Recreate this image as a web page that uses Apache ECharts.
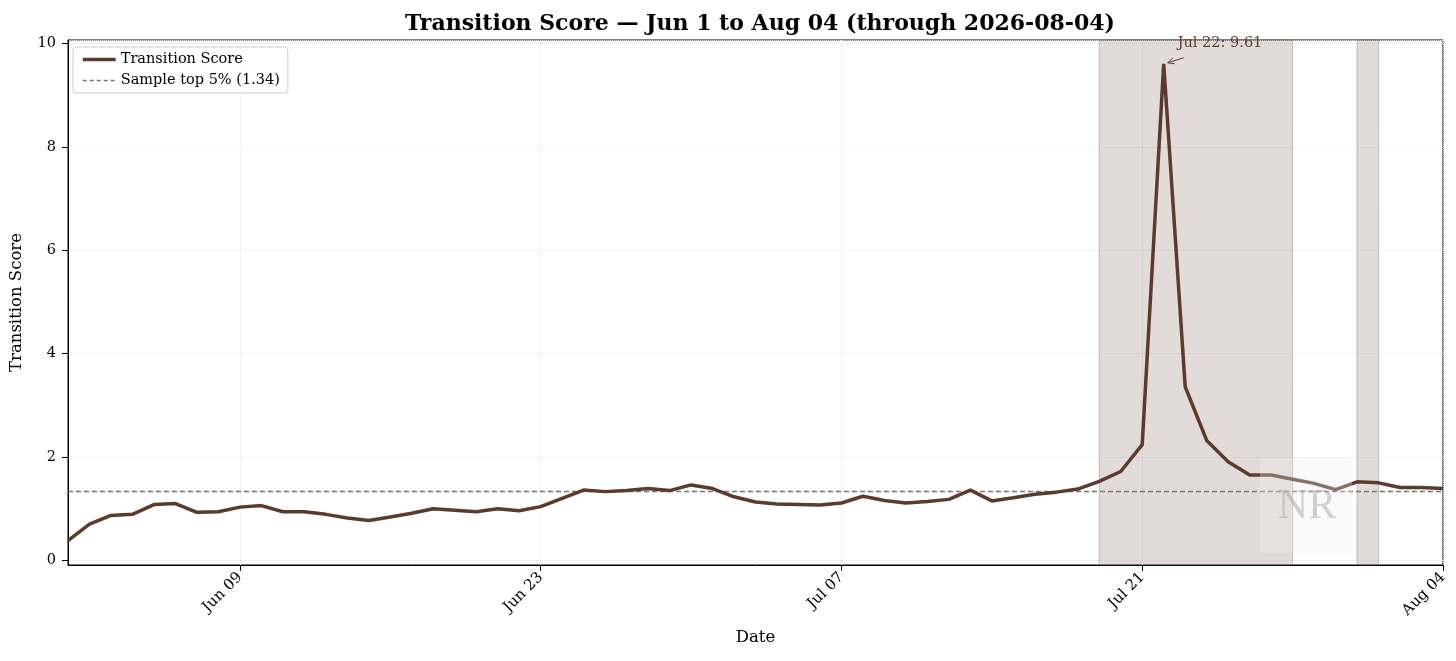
<!DOCTYPE html>
<html>
<head>
<meta charset="utf-8">
<title>Transition Score</title>
<script src="https://cdn.jsdelivr.net/npm/echarts@6/dist/echarts.min.js"></script>
<style>
  html, body { margin: 0; padding: 0; background: #fff; }
  #chart { width: 1456px; height: 661px; }
</style>
</head>
<body>
<div id="chart"></div>
<script>
//////////////////////////////////////////////////////////////////
// [ Data ]

const startDate = new Date(2026, 5, 1);
const dayCount = 65;
const months = ['Jan', 'Feb', 'Mar', 'Apr', 'May', 'Jun', 'Jul', 'Aug', 'Sep', 'Oct', 'Nov', 'Dec'];

const dates = [];
for (let i = 0; i < dayCount; i++) {
    const d = new Date(startDate.getFullYear(), startDate.getMonth(), startDate.getDate() + i);
    dates.push(months[d.getMonth()] + ' ' + String(d.getDate()).padStart(2, '0'));
}

const scoreJun = [0.38, 0.70, 0.87, 0.89, 1.08, 1.10, 0.93, 0.94, 1.03, 1.06,
    0.94, 0.94, 0.89, 0.82, 0.77, 0.84, 0.91, 1.00, 0.97, 0.94,
    1.00, 0.96, 1.04, 1.20, 1.36, 1.33, 1.35, 1.39, 1.35, 1.46];
const scoreJul = [1.39, 1.23, 1.13, 1.09, 1.08, 1.07, 1.11, 1.24, 1.16, 1.11,
    1.14, 1.18, 1.36, 1.15, 1.21, 1.28, 1.32, 1.38, 1.53, 1.72,
    2.24, 9.61, 3.36, 2.32, 1.91, 1.65, 1.65, 1.57, 1.49, 1.37, 1.52];
const scoreAug = [1.50, 1.41, 1.41, 1.39];
const scores = scoreJun.concat(scoreJul, scoreAug);

const threshold = 1.34;
const xTickLabels = ['Jun 09', 'Jun 23', 'Jul 07', 'Jul 21', 'Aug 04'];
const shadedSpans = [['Jul 19', 'Jul 28'], ['Jul 31', 'Aug 01']];
const peakDate = 'Jul 22';
const peakValue = 9.61;

//////////////////////////////////////////////////////////////////
// [ Chart ]

const FONT = 'DejaVu Serif';
const LINE = '#5c3b2e';
const chart = echarts.init(document.getElementById('chart'), null, { renderer: 'canvas' });

const isTick = function (index, value) {
    return xTickLabels.indexOf(dates[index]) !== -1;
};

const options = {
    animation: false,
    backgroundColor: '#fff',
    textStyle: { fontFamily: FONT },
    title: {
        text: 'Transition Score \u2014 Jun 1 to Aug 04 (through 2026-08-04)',
        left: 755,
        textAlign: 'center',
        top: 8,
        textStyle: { fontFamily: FONT, fontSize: 22, fontWeight: 'bold', color: '#000' }
    },
    legend: {
        orient: 'vertical',
        left: 73,
        top: 47,
        padding: [5, 8, 5, 8],
        itemGap: 6,
        itemWidth: 33,
        itemHeight: 12,
        borderColor: '#cccccc',
        borderWidth: 1,
        borderRadius: 3,
        backgroundColor: 'rgba(255,255,255,0.8)',
        itemStyle: { opacity: 0 },
        textStyle: { fontFamily: FONT, fontSize: 14.5, color: '#000' },
        data: [
            { name: 'Transition Score', lineStyle: { width: 3.5, color: LINE } },
            { name: 'Sample top 5% (1.34)', lineStyle: { width: 1.3, color: '#777777', type: [4, 3] } }
        ]
    },
    grid: {
        left: 66,
        right: 13,
        top: 40,
        bottom: 96,
        show: true,
        borderColor: '#000',
        borderWidth: 1,
        backgroundColor: 'transparent'
    },
    xAxis: {
        type: 'category',
        data: dates,
        boundaryGap: false,
        name: 'Date',
        nameLocation: 'middle',
        nameGap: 64,
        nameTextStyle: { fontFamily: FONT, fontSize: 16.5, color: '#000' },
        axisLine: { onZero: false, lineStyle: { color: '#000', width: 1 } },
        axisTick: { interval: isTick, length: 6, lineStyle: { color: '#000' } },
        axisLabel: {
            interval: isTick,
            rotate: 45,
            margin: 10,
            fontFamily: FONT,
            fontSize: 15,
            color: '#000'
        },
        splitLine: {
            show: true,
            interval: isTick,
            lineStyle: { color: '#e6e6e6', type: 'dotted', width: 1 }
        }
    },
    yAxis: {
        type: 'value',
        min: -0.09,
        max: 10.07,
        splitNumber: 5,
        name: 'Transition Score',
        nameLocation: 'middle',
        nameGap: 43,
        nameTextStyle: { fontFamily: FONT, fontSize: 16.5, color: '#000' },
        axisLine: { show: true, onZero: false, lineStyle: { color: '#000', width: 1 } },
        axisTick: { show: true, length: 6, lineStyle: { color: '#000' } },
        axisLabel: {
            showMinLabel: false,
            showMaxLabel: false,
            margin: 12,
            fontFamily: FONT,
            fontSize: 14.5,
            color: '#000'
        },
        splitLine: { show: true, lineStyle: { color: '#e6e6e6', type: 'dotted', width: 1 } }
    },
    series: [
        {
            name: 'Transition Score',
            type: 'line',
            data: scores,
            symbol: 'none',
            z: 5,
            lineStyle: { color: LINE, width: 3.5 },
            itemStyle: { color: LINE },
            markArea: {
                silent: true,
                itemStyle: {
                    color: 'rgba(120,95,85,0.22)',
                    borderColor: 'rgba(120,95,85,0.35)',
                    borderWidth: 1
                },
                data: shadedSpans.map(function (span) {
                    return [{ xAxis: span[0] }, { xAxis: span[1] }];
                })
            }
        },
        {
            name: 'Sample top 5% (1.34)',
            type: 'line',
            data: [],
            symbol: 'none',
            z: 4,
            lineStyle: { color: '#777777', width: 1.3, type: [5, 3] },
            itemStyle: { color: '#777777' },
            markLine: {
                silent: true,
                symbol: 'none',
                label: { show: false },
                lineStyle: { color: '#777777', width: 1.3, type: [5, 3] },
                data: [{ yAxis: threshold }]
            }
        }
    ]
};

chart.setOption(options);

//////////////////////////////////////////////////////////////////
// [ Peak annotation + watermark ]

const peak = chart.convertToPixel({ xAxisIndex: 0, yAxisIndex: 0 }, [peakDate, peakValue]);
const tail = [peak[0] + 20, peak[1] - 6];
const tip = [peak[0] + 4, peak[1] - 1];
const dx = tail[0] - tip[0], dy = tail[1] - tip[1];
const len = Math.sqrt(dx * dx + dy * dy);
const ux = dx / len, uy = dy / len;
const headLen = 7, ang = 0.45;
function rot(a) {
    return [tip[0] + headLen * (ux * Math.cos(a) - uy * Math.sin(a)),
            tip[1] + headLen * (ux * Math.sin(a) + uy * Math.cos(a))];
}

chart.setOption({
    graphic: [
        {
            type: 'text',
            left: peak[0] + 14,
            top: peak[1] - 28,
            z: 10,
            style: {
                text: peakDate + ': ' + peakValue.toFixed(2),
                fill: '#5c3b2e',
                font: '14.5px "DejaVu Serif"'
            }
        },
        {
            type: 'polyline',
            z: 10,
            shape: { points: [rot(ang), tip, rot(-ang)] },
            style: { stroke: '#5c3b2e', lineWidth: 1, fill: null }
        },
        {
            type: 'line',
            z: 10,
            shape: { x1: tail[0], y1: tail[1], x2: tip[0], y2: tip[1] },
            style: { stroke: '#5c3b2e', lineWidth: 1 }
        },
        {
            type: 'rect',
            z: 20,
            shape: { x: 1260, y: 458, width: 92, height: 95 },
            style: { fill: 'rgba(242,240,239,0.3)' }
        },
        {
            type: 'text',
            z: 21,
            x: 1307,
            y: 507,
            style: {
                text: 'NR',
                fill: 'rgba(170,165,162,0.5)',
                font: '42px "Liberation Serif"',
                align: 'center',
                verticalAlign: 'middle'
            }
        }
    ]
});

window.addEventListener('resize', function () {
    chart.resize();
});
</script>
</body>
</html>
